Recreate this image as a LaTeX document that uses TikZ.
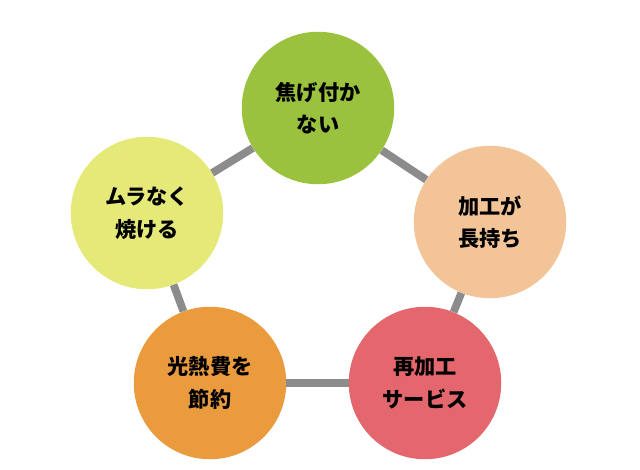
\documentclass[tikz,border=0pt]{standalone}
\usepackage{fontspec}
\newfontfamily\cjk{Noto Sans CJK JP}
\usetikzlibrary{positioning}
\definecolor{cgreen}{HTML}{9BC23E}
\definecolor{cpeach}{HTML}{F3C498}
\definecolor{cred}{HTML}{E3676C}
\definecolor{corange}{HTML}{EA9B3E}
\definecolor{cyellow}{HTML}{E5E977}
\tikzset{merit/.style = {
  circle, minimum size=4.3cm, inner sep=0pt,
  text centered, align=center,
  font=\cjk\bfseries\fontsize{17}{26}\selectfont,
  fill=#1
  }}
\tikzset{link/.style = {
  line width=2.2mm,
  draw=black!45
  }}
\begin{document}
\begin{tikzpicture}[x=0.0282cm, y=-0.0282cm]
\useasboundingbox (0,0) rectangle (640,469);
% NODES
\node (koge) [merit=cgreen] at (318,108) {焦げ付か\\ない};
\node (naga) [merit=cpeach] at (490,222) {加工が\\長持ち};
\node (sabi) [merit=cred] at (425,383) {再加工\\サービス};
\node (setu) [merit=corange] at (210,383) {光熱費を\\節約};
\node (mura) [merit=cyellow] at (147,213) {ムラなく\\焼ける};
% links
\draw [link] (koge) -- (naga);
\draw [link] (naga) -- (sabi);
\draw [link] (sabi) -- (setu);
\draw [link] (setu) -- (mura);
\draw [link] (mura) -- (koge);
\end{tikzpicture}
\end{document}
